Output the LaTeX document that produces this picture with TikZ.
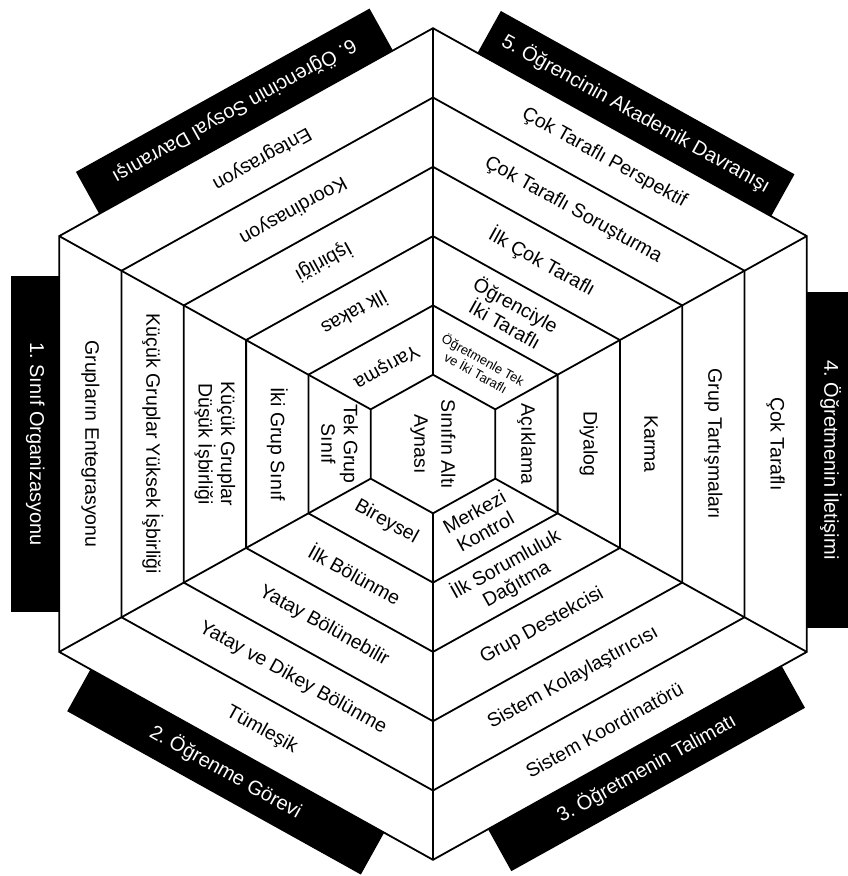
\documentclass[tikz,border=0pt]{standalone}
\usepackage{fontspec}
\setmainfont{Liberation Sans}
\usetikzlibrary{calc}
\frenchspacing
\begin{document}
\begin{tikzpicture}[x=1pt,y=-1pt,
  hexline/.style={line width=1.8pt},
  tag/.style={fill=black, text=white, minimum width=336pt, minimum height=48pt,
    inner sep=0pt, font=\fontsize{20}{24}\selectfont},
  cell/.style={align=center, inner sep=0pt, font=\fontsize{19.5}{22.5}\selectfont},
  smallcell/.style={align=center, inner sep=0pt, font=\fontsize{13}{15}\selectfont}]
\useasboundingbox (0,0) rectangle (848,876);
\coordinate (c) at (433,444);

% black category bars outside the six sides
\node (t1) [tag, rotate=-90]    at (35.2,444)     {1. Sınıf Organizasyonu};
\node (t2) [tag, rotate=-29.08] at (225.7,771.9)  {2. Öğrenme Görevi};
\node (t3) [tag, rotate=29.08]  at (646.5,768.5)  {3. Öğretmenin Talimatı};
\node (t4) [tag, rotate=-90]    at (830.8,460)    {4. Öğretmenin İletişimi};
\node (t5) [tag, rotate=-29.08] at (636,113.6)    {5. Öğrencinin Akademik Davranışı};
\node (t6) [tag, rotate=209.08] at (234.4,111.2)  {6. Öğrencinin Sosyal Davranışı};

% six concentric hexagons
\foreach \k in {1,...,6}
  \draw[hexline] ($(c)+\k*(0,-69.3)$) -- ($(c)+\k*(62.3,-34.65)$)
    -- ($(c)+\k*(62.3,34.65)$) -- ($(c)+\k*(0,69.3)$)
    -- ($(c)+\k*(-62.3,34.65)$) -- ($(c)+\k*(-62.3,-34.65)$) -- cycle;

% spokes joining the corners
\foreach \dx/\dy in {0/-69.3, 62.3/-34.65, 62.3/34.65, 0/69.3, -62.3/34.65, -62.3/-34.65}
  \draw[hexline] ($(c)+(\dx,\dy)$) -- ($(c)+6*(\dx,\dy)$);

% centre
\node (mid) [cell, rotate=-90, font=\fontsize{19.5}{27}\selectfont] at (c) {Sınıfın Altı\\Aynası};

% upper right sector
\node (ur2) [smallcell, rotate=-29.08] at ($(c)+1.5*(31.15,-51.975)$) {Öğretmenle Tek\\ve İki Taraflı};
\node (ur3) [cell, rotate=-29.08] at ($(c)+2.5*(31.15,-51.975)$) {Öğrenciyle\\İki Taraflı};
\node (ur4) [cell, rotate=-29.08] at ($(c)+3.5*(31.15,-51.975)$) {İlk Çok Taraflı};
\node (ur5) [cell, rotate=-29.08] at ($(c)+4.5*(31.15,-51.975)$) {Çok Taraflı Soruşturma};
\node (ur6) [cell, rotate=-29.08] at ($(c)+5.5*(31.15,-51.975)$) {Çok Taraflı Perspektif};

% right sector
\node (r2) [cell, rotate=-90] at ($(c)+1.5*(62.3,0)$) {Açıklama};
\node (r3) [cell, rotate=-90] at ($(c)+2.5*(62.3,0)$) {Diyalog};
\node (r4) [cell, rotate=-90] at ($(c)+3.5*(62.3,0)$) {Karma};
\node (r5) [cell, rotate=-90] at ($(c)+4.5*(62.3,0)$) {Grup Tartışmaları};
\node (r6) [cell, rotate=-90] at ($(c)+5.5*(62.3,0)$) {Çok Taraflı};

% lower right sector
\node (lr2) [cell, rotate=29.08] at ($(c)+1.5*(31.15,51.975)$) {Merkezi\\Kontrol};
\node (lr3) [cell, rotate=29.08] at ($(c)+2.5*(31.15,51.975)$) {İlk Sorumluluk\\Dağıtma};
\node (lr4) [cell, rotate=29.08] at ($(c)+3.5*(31.15,51.975)$) {Grup Destekcisi};
\node (lr5) [cell, rotate=29.08] at ($(c)+4.5*(31.15,51.975)$) {Sistem Kolaylaştırıcısı};
\node (lr6) [cell, rotate=29.08] at ($(c)+5.5*(31.15,51.975)$) {Sistem Koordinatörü};

% lower left sector
\node (ll2) [cell, rotate=-29.08] at ($(c)+1.5*(-31.15,51.975)$) {Bireysel};
\node (ll3) [cell, rotate=-29.08] at ($(c)+2.5*(-31.15,51.975)$) {İlk Bölünme};
\node (ll4) [cell, rotate=-29.08] at ($(c)+3.5*(-31.15,51.975)$) {Yatay Bölünebilir};
\node (ll5) [cell, rotate=-29.08] at ($(c)+4.5*(-31.15,51.975)$) {Yatay ve Dikey Bölünme};
\node (ll6) [cell, rotate=-29.08] at ($(c)+5.5*(-31.15,51.975)$) {Tümleşik};

% left sector
\node (l2) [cell, rotate=-90] at ($(c)+1.5*(-62.3,0)$) {Tek Grup\\Sınıf};
\node (l3) [cell, rotate=-90] at ($(c)+2.5*(-62.3,0)$) {İki Grup Sınıf};
\node (l4) [cell, rotate=-90] at ($(c)+3.5*(-62.3,0)$) {Küçük Gruplar\\Düşük İşbirliği};
\node (l5) [cell, rotate=-90] at ($(c)+4.5*(-62.3,0)$) {Küçük Gruplar Yüksek İşbirliği};
\node (l6) [cell, rotate=-90] at ($(c)+5.5*(-62.3,0)$) {Grupların Entegrasyonu};

% upper left sector
\node (ul2) [cell, rotate=209.08] at ($(c)+1.5*(-31.15,-51.975)$) {Yarışma};
\node (ul3) [cell, rotate=209.08] at ($(c)+2.5*(-31.15,-51.975)$) {İlk takas};
\node (ul4) [cell, rotate=209.08] at ($(c)+3.5*(-31.15,-51.975)$) {İşbirliği};
\node (ul5) [cell, rotate=209.08] at ($(c)+4.5*(-31.15,-51.975)$) {Koordinasyon};
\node (ul6) [cell, rotate=209.08] at ($(c)+5.5*(-31.15,-51.975)$) {Entegrasyon};
\end{tikzpicture}
\end{document}
